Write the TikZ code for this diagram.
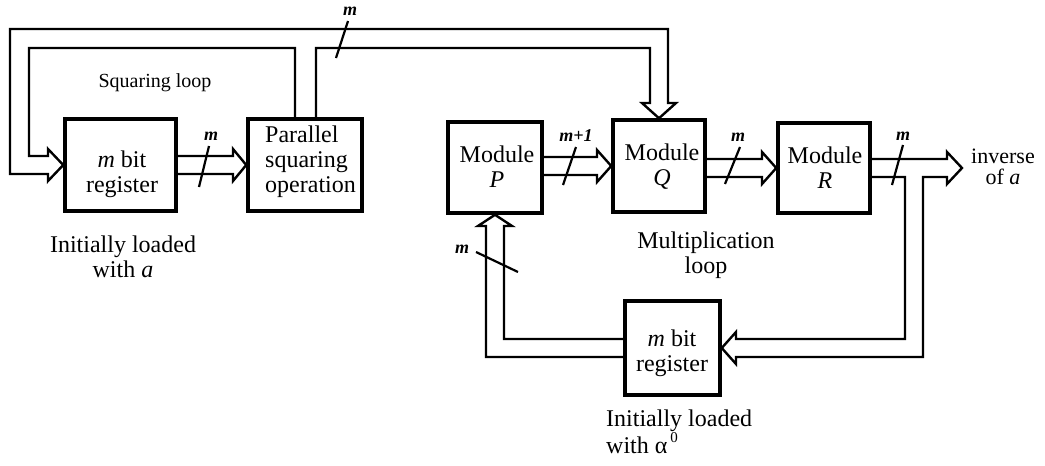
\documentclass[tikz,border=0pt]{standalone}
\usepackage{fontspec}
\setmainfont{Liberation Serif}
\usetikzlibrary{calc}
\begin{document}
\begin{tikzpicture}[x=1pt,y=-1pt,
  box/.style={draw, line width=3.5pt, inner sep=0pt},
  bus/.style={line width=2.4pt, line join=miter},
  slash/.style={line width=2.2pt},
  txt/.style={font=\fontsize{24}{25}\selectfont, align=center, inner sep=0pt},
  lbl/.style={font=\fontsize{18}{18}\selectfont\bfseries\itshape, inner sep=0pt}]
\useasboundingbox (0,0) rectangle (1045,466);
% boxes
\node[box,minimum width=111,minimum height=92] (reg1) at (120.5,165) {};
\node[box,minimum width=114,minimum height=92] (sq) at (305,165) {};
\node[box,minimum width=94,minimum height=91] (P) at (495,167.5) {};
\node[box,minimum width=92,minimum height=92] (Q) at (659,166) {};
\node[box,minimum width=92,minimum height=90] (R) at (824,168) {};
\node[box,minimum width=95,minimum height=94] (reg2) at (672.5,348) {};
\coordinate (out) at (962,168);
% squaring loop and feed to Q
\draw[bus] (sq.north -| 295,0) -- (295,48) -- (29,48) -- (29,156) -- (48,156) -- (48,149) -- (reg1.west) -- (48,181) -- (48,174) -- (10,174) -- (10,29) -- (668,29) -- (668,103) -- (676,103) -- (Q.north) -- (642,103) -- (650,103) -- (650,48) -- (316,48) -- (sq.north -| 316,0);
% register -> squaring
\draw[bus] (reg1.east |- 0,156) -- (233,156) -- (233,149) -- (sq.west) -- (233,181) -- (233,174) -- (reg1.east |- 0,174);
% P -> Q
\draw[bus] (P.east |- 0,157) -- (597,157) -- (597,150) -- (Q.west) -- (597,182) -- (597,175) -- (P.east |- 0,175);
% Q -> R
\draw[bus] (Q.east |- 0,159) -- (762,159) -- (762,152) -- (R.west) -- (762,184) -- (762,177) -- (Q.east |- 0,177);
% R -> output and register 2
\draw[bus] (R.east |- 0,159) -- (947,159) -- (947,152) -- (out) -- (947,184) -- (947,177) -- (923,177) -- (923,357) -- (736,357) -- (736,364) -- (reg2.east) -- (736,332) -- (736,339) -- (905,339) -- (905,177) -- (R.east |- 0,177);
% register 2 -> P
\draw[bus] (reg2.west |- 0,339) -- (504,339) -- (504,226) -- (512,226) -- (P.south) -- (478,226) -- (486,226) -- (486,357) -- (reg2.west |- 0,357);
% slashes and widths
\draw[slash] (336,58) -- (348,21); \node[lbl] (w1) at (350,11) {m};
\draw[slash] (199,187) -- (209,146); \node[lbl] (w2) at (211,136) {m};
\draw[slash] (563,185) -- (576,147); \node[lbl] (w3) at (576,136) {m+1};
\draw[slash] (725,184) -- (740,147); \node[lbl] (w4) at (738,137) {m};
\draw[slash] (892,185) -- (903,145); \node[lbl] (w5) at (903,136) {m};
\draw[slash] (476,252) -- (518,272); \node[lbl] (w6) at (462,249) {m};
% texts
\node[txt] (t1) at (122,174) {\textit{m} bit\\register};
\node[txt,align=left,anchor=west] (t2) at (265,162) {Parallel\\squaring\\operation};
\node[txt] (t3) at (497,167) {Module\\\textit{P}};
\node[txt] (t4) at (662,167) {Module\\\textit{Q}};
\node[txt] (t5) at (825,168) {Module\\\textit{R}};
\node[txt,font=\fontsize{22}{21}\selectfont] (t6) at (1003,167) {inverse\\of \textit{a}};
\node[txt] (t7) at (123,257) {Initially loaded\\with \textit{a}};
\node[txt,font=\fontsize{20}{22}\selectfont] (t8) at (155,83) {Squaring loop};
\node[txt] (t9) at (706,255) {Multiplication\\loop};
\node[txt] (t10) at (672,353) {\textit{m} bit\\register};
\node[txt,align=left,anchor=west] (t11) at (606,432) {Initially loaded\\with α\kern3pt\raisebox{0.45em}{\fontsize{15}{15}\selectfont 0}};
\end{tikzpicture}
\end{document}
